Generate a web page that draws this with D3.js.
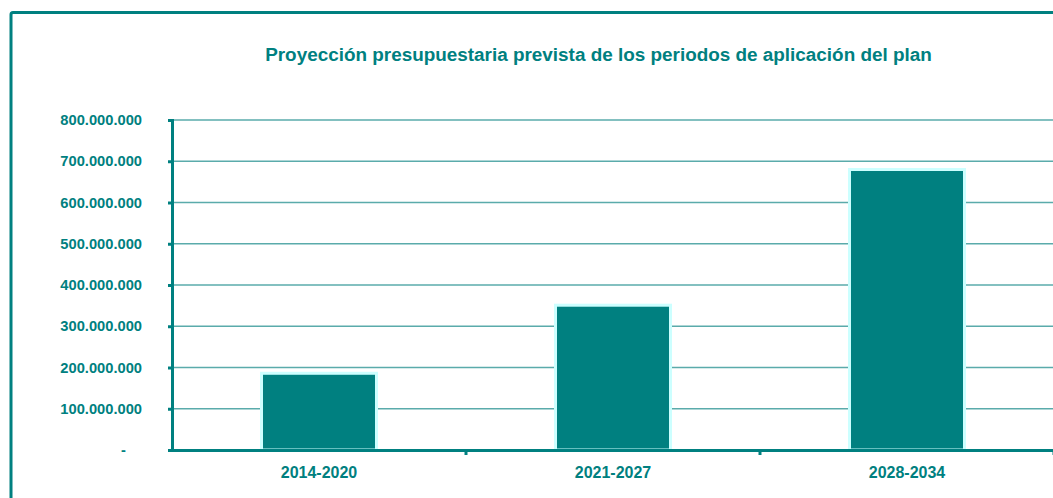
<!DOCTYPE html>
<html>
<head>
<meta charset="utf-8">
<script src="https://cdn.jsdelivr.net/npm/d3@7"></script>
<style>
  body { margin: 0; background: #fff; }
  svg { display: block; font-family: "Liberation Sans", Arial, sans-serif; }
</style>
</head>
<body>
<div id="grafico"></div>
<script>
// datos del gráfico
var periodos = ["2014-2020", "2021-2027", "2028-2034"];
var importes = [186000000, 351000000, 680000000];
var ticksY = [0, 100000000, 200000000, 300000000, 400000000, 500000000, 600000000, 700000000, 800000000];
var titulo = "Proyección presupuestaria prevista de los periodos de aplicación del plan";

var ancho = 1053, alto = 498;
var verde = "#008080";
var margen = {izq: 172, arriba: 120, abajo: 450, der: 1054};

var svg = d3.select("#grafico").append("svg").attr("width", ancho).attr("height", alto);

// marco del gráfico
svg.append("rect")
  .attr("x", 11).attr("y", 12.5)
  .attr("width", 1100).attr("height", 600)
  .attr("rx", 2)
  .attr("fill", "none")
  .attr("stroke", verde)
  .attr("stroke-width", 3);

svg.append("text")
  .attr("x", 598.5).attr("y", 61)
  .attr("text-anchor", "middle")
  .attr("font-size", 18.9).attr("font-weight", "bold")
  .attr("fill", verde)
  .text(titulo);

var x = d3.scaleBand().domain(periodos).range([margen.izq, margen.der]);
var y = d3.scaleLinear().domain([0, 800000000]).range([margen.abajo, margen.arriba]);

// lineas de division
svg.append("g").selectAll("line").data(ticksY.slice(1)).enter().append("line")
  .attr("x1", margen.izq).attr("x2", ancho)
  .attr("y1", d => y(d)).attr("y2", d => y(d))
  .attr("stroke", "#5aabab").attr("stroke-width", 1.3);

// barras
var anchoBarra = 115;
svg.append("g").selectAll("rect").data(importes).enter().append("rect")
  .attr("x", (d, i) => x(periodos[i]) + x.bandwidth() / 2 - anchoBarra / 2)
  .attr("y", d => y(d))
  .attr("width", anchoBarra)
  .attr("height", d => y(0) - y(d))
  .attr("fill", verde)
  .attr("stroke", "#ccffff")
  .attr("stroke-width", 3);

// eje Y
var ejeY = d3.axisLeft(y).tickValues(ticksY).tickSize(4).tickPadding(26)
  .tickFormat(d => d === 0 ? "-" : d3.format(",")(d).replace(/,/g, "."));
var gY = svg.append("g").attr("transform", "translate(" + margen.izq + ",0)").call(ejeY);
gY.select(".domain").attr("stroke", verde).attr("stroke-width", 3);
gY.selectAll(".tick line").attr("stroke", verde).attr("stroke-width", 3);
gY.selectAll(".tick text")
  .attr("fill", verde).attr("font-size", 14.7).attr("font-weight", "bold")
  .attr("font-family", "Liberation Sans, Arial, sans-serif");
gY.selectAll(".tick text").filter(d => d === 0).attr("dx", -16);

// eje X
var ejeX = d3.axisBottom(x).tickSize(0).tickPadding(17);
var gX = svg.append("g").attr("transform", "translate(0," + margen.abajo + ")").call(ejeX);
gX.select(".domain").attr("stroke", verde).attr("stroke-width", 3);
gX.selectAll(".tick text")
  .attr("fill", verde).attr("font-size", 16).attr("font-weight", "bold")
  .attr("font-family", "Liberation Sans, Arial, sans-serif");

// marcas entre categorias
var limites = periodos.map(p => x(p) + x.bandwidth());
svg.append("g").selectAll("line").data(limites).enter().append("line")
  .attr("x1", d => d).attr("x2", d => d)
  .attr("y1", margen.abajo).attr("y2", margen.abajo + 5)
  .attr("stroke", verde).attr("stroke-width", 3);
</script>
</body>
</html>
